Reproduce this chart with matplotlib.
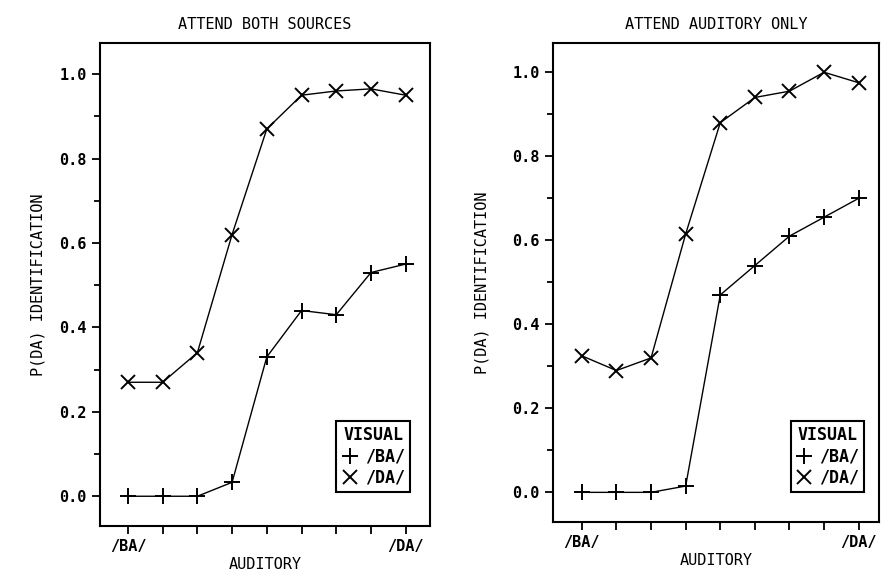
import numpy as np
import matplotlib
matplotlib.use("Agg")
import matplotlib.pyplot as plt
from matplotlib.ticker import MultipleLocator

plt.rcParams['font.family'] = ['DejaVu Sans Mono']
plt.rcParams['font.weight'] = 'bold'

# auditory continuum steps, /BA/ ... /DA/
steps = np.arange(1, 10)
x_labels = ["/BA/", "", "", "", "", "", "", "", "/DA/"]

# attend both sources
both_da = [0.27, 0.27, 0.34, 0.62, 0.87, 0.95, 0.96, 0.965, 0.95]
both_ba = [0.0, 0.0, 0.0, 0.033, 0.33, 0.44, 0.43, 0.53, 0.55]

# attend auditory only
aud_da = [0.325, 0.29, 0.32, 0.615, 0.88, 0.94, 0.955, 1.0, 0.975]
aud_ba = [0.0, 0.0, 0.0, 0.015, 0.47, 0.54, 0.61, 0.655, 0.70]

titles = ["ATTEND BOTH SOURCES", "ATTEND AUDITORY ONLY"]
y_label = "P(DA) IDENTIFICATION"
x_label = "AUDITORY"

fig = plt.figure(figsize=(8.83, 5.77), dpi=100)
ax1 = fig.add_axes([0.113, 0.088, 0.374, 0.837])
ax2 = fig.add_axes([0.626, 0.095, 0.370, 0.830])

panels = [
    (ax1, both_ba, both_da, (0.19, 9.7), (-0.071, 1.073), (0.964, 0.054), 10),
    (ax2, aud_ba, aud_da, (0.16, 9.6), (-0.071, 1.069), (0.979, 0.046), 16),
]

for i, (ax, ba, da, xl, yl, anchor, ypad) in enumerate(panels):
    ax.plot(steps, ba, color='black', lw=1.0, marker='+', ms=11, mew=1.4,
            label='/BA/')
    ax.plot(steps, da, color='black', lw=1.0, marker='x', ms=10, mew=1.4,
            label='/DA/')
    ax.set_xlim(*xl)
    ax.set_ylim(*yl)
    ax.set_xticks(steps)
    ax.set_xticklabels(x_labels)
    ax.yaxis.set_major_locator(MultipleLocator(0.2))
    ax.yaxis.set_minor_locator(MultipleLocator(0.1))
    ax.set_yticks(np.arange(0, 1.01, 0.2))
    ax.set_yticklabels(["%.1f" % v for v in np.arange(0, 1.01, 0.2)])
    ax.tick_params(axis='both', which='major', direction='out', length=6,
                   width=1.3, labelsize=11, colors='black')
    ax.tick_params(axis='y', which='minor', direction='out', length=4,
                   width=1.3)
    for s in ax.spines.values():
        s.set_linewidth(1.5)
        s.set_color('black')
    ax.set_title(titles[i], fontsize=11, pad=10)
    ax.set_ylabel(y_label, fontsize=11, labelpad=ypad)
    ax.set_xlabel(x_label, fontsize=11, labelpad=2)
    leg = ax.legend(title="VISUAL", loc='lower right', bbox_to_anchor=anchor,
                    fancybox=False, edgecolor='black', framealpha=1,
                    fontsize=12, title_fontsize=12, handlelength=1.0,
                    handletextpad=0.4, borderpad=0.3, labelspacing=0.2)
    leg.get_frame().set_linewidth(1.5)
    for line in leg.get_lines():
        line.set_linestyle('none')

fig.savefig("out.png", dpi=100)
